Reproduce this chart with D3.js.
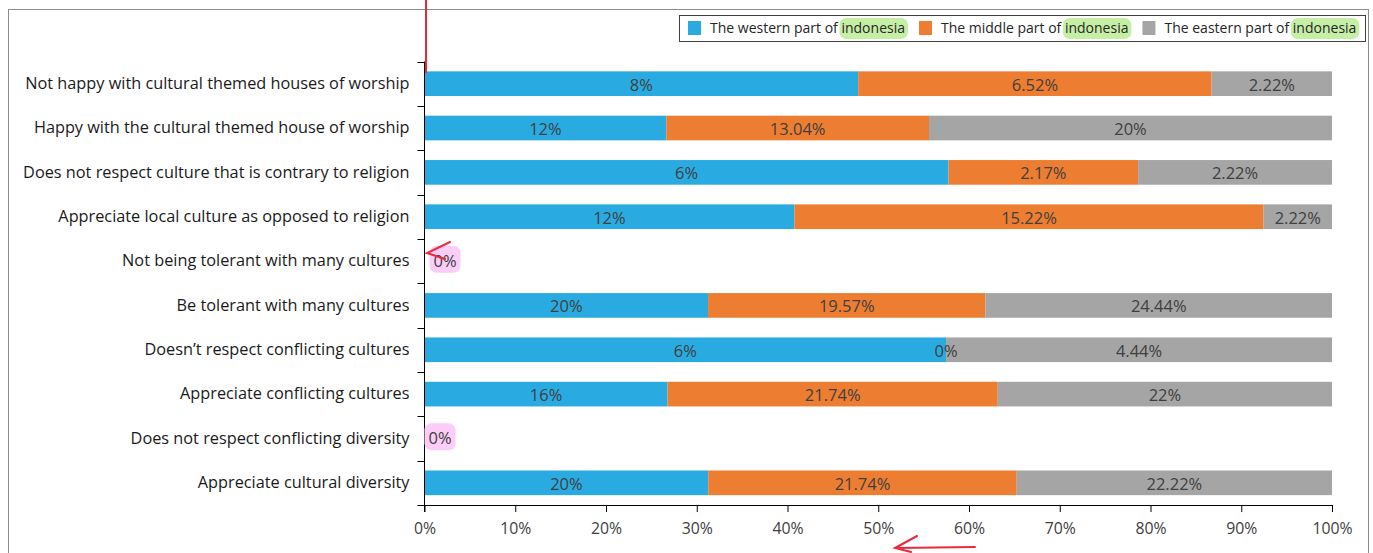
<!DOCTYPE html>
<html>
<head>
<meta charset="utf-8">
<script src="https://cdn.jsdelivr.net/npm/d3@7"></script>
<style>
  html, body { margin: 0; padding: 0; background: #fff; }
  svg { display: block; font-family: "Open Sans", Lato, sans-serif; }
</style>
</head>
<body>
<svg id="chart" width="1373" height="553"></svg>
<script>
// Survey responses by region (percent of respondents)
const categories = [
  "Not happy with cultural themed houses of worship",
  "Happy with the cultural themed house of worship",
  "Does not respect culture that is contrary to religion",
  "Appreciate local culture as opposed to religion",
  "Not being tolerant with many cultures",
  "Be tolerant with many cultures",
  "Doesn\u2019t respect conflicting cultures",
  "Appreciate conflicting cultures",
  "Does not respect conflicting diversity",
  "Appreciate cultural diversity"
];
const western = [8, 12, 6, 12, 0, 20, 6, 16, 0, 20];
const middle  = [6.52, 13.04, 2.17, 15.22, 0, 19.57, 0, 21.74, 0, 21.74];
const eastern = [2.22, 20, 2.22, 2.22, 0, 24.44, 4.44, 22, 0, 22.22];
const seriesNames = ["The western part of ", "The middle part of ", "The eastern part of "];
const seriesKeys = ["western", "middle", "eastern"];
const seriesColors = ["#29abe2", "#ed7d31", "#a5a5a5"];
const xTicks = [0, 0.1, 0.2, 0.3, 0.4, 0.5, 0.6, 0.7, 0.8, 0.9, 1];

const rows = categories.map((c, i) => ({
  category: c, western: western[i], middle: middle[i], eastern: eastern[i]
}));

const svg = d3.select("#chart");
const textColor = "#404040";

// outer frame
svg.append("rect")
  .attr("x", 8.5).attr("y", 9.5).attr("width", 1360).attr("height", 560)
  .attr("fill", "none").attr("stroke", "#8c8c8c").attr("stroke-width", 1);

const plotLeft = 424.5, plotRight = 1332, plotTop = 61.5, plotBottom = 505;

const x = d3.scaleLinear().domain([0, 1]).range([plotLeft, plotRight]);
const y = d3.scaleBand().domain(categories).range([plotTop, plotBottom]).paddingInner(0.444).paddingOuter(0.222);

const stack = d3.stack().keys(seriesKeys).offset(d3.stackOffsetExpand);
const stacked = stack(rows);

// bars
const g = svg.append("g");
stacked.forEach((s, si) => {
  g.selectAll(null).data(s).enter().append("rect")
    .attr("x", d => x(d[0]))
    .attr("y", d => y(d.data.category))
    .attr("width", d => Math.max(0, x(d[1]) - x(d[0])))
    .attr("height", y.bandwidth())
    .attr("fill", seriesColors[si]);
});

// x axis
const xAxis = svg.append("g")
  .attr("transform", `translate(0,${plotBottom})`)
  .call(d3.axisBottom(x).tickValues(xTicks).tickFormat(d3.format(".0%")).tickSizeOuter(0).tickSize(7).tickPadding(11));
xAxis.select(".domain").attr("stroke", "#000").attr("d", `M${plotLeft - 7},0.5H${plotRight}`);
xAxis.selectAll(".tick line").attr("stroke", "#000");
xAxis.selectAll("text").attr("font-size", 15.8).attr("fill", textColor)
  .attr("font-family", "'Open Sans', sans-serif");

// y axis with ticks at band boundaries
const yg = svg.append("g").attr("transform", `translate(${plotLeft},0)`);
yg.append("line").attr("x1", 0).attr("x2", 0).attr("y1", plotTop).attr("y2", plotBottom + 7).attr("stroke", "#000");
d3.range(categories.length).forEach(i => {
  const yy = Math.round(plotTop + i * (plotBottom - plotTop) / categories.length) + 0.5;
  yg.append("line").attr("x1", -7).attr("x2", 0).attr("y1", yy).attr("y2", yy).attr("stroke", "#000");
});
categories.forEach(c => {
  yg.append("text")
    .attr("x", -15)
    .attr("y", y(c) + y.bandwidth() / 2)
    .attr("dy", "0.32em")
    .attr("text-anchor", "end")
    .attr("font-size", 16.3)
    .attr("fill", "#1a1a1a")
    .text(c);
});

// data labels
const labelG = svg.append("g");
const pinkBg = labelG.append("g");
rows.forEach((r, i) => {
  const total = r.western + r.middle + r.eastern;
  const cy = y(r.category) + y.bandwidth() / 2;
  if (total === 0) {
    const t = labelG.append("text")
      .attr("x", x(0) + (i === 4 ? 9 : 4))
      .attr("y", cy).attr("dy", "0.35em")
      .attr("font-size", 16.5).attr("fill", textColor)
      .text("0%");
    const b = t.node().getBBox();
    pinkBg.append("rect")
      .attr("x", b.x - 4).attr("y", b.y - 3).attr("width", b.width + 8).attr("height", b.height + 4)
      .attr("rx", 7).attr("fill", "#fbcdf7");
    return;
  }
  stacked.forEach((s, si) => {
    const d = s[i];
    const v = r[seriesKeys[si]];
    labelG.append("text")
      .attr("x", (x(d[0]) + x(d[1])) / 2)
      .attr("y", cy).attr("dy", "0.42em")
      .attr("text-anchor", "middle")
      .attr("font-size", 16.5).attr("fill", textColor)
      .text(v + "%");
  });
});

// legend
const leg = svg.append("g");
leg.append("rect")
  .attr("x", 679.5).attr("y", 15.5).attr("width", 686).attr("height", 26)
  .attr("fill", "#fff").attr("stroke", "#404040");
let lx = 688;
seriesNames.forEach((name, i) => {
  leg.append("rect").attr("x", lx).attr("y", 21).attr("width", 13).attr("height", 14).attr("fill", seriesColors[i]);
  const t = leg.append("text").attr("x", lx + 22).attr("y", 28).attr("dy", "0.35em")
    .attr("font-size", 14).attr("fill", "#262626");
  t.append("tspan").text(name);
  const hl = t.append("tspan").text("indonesia");
  const tb = t.node().getBBox();
  const hw = hl.node().getComputedTextLength();
  leg.insert("rect", "text")
    .attr("x", tb.x + tb.width - hw - 2).attr("y", 18).attr("width", hw + 5).attr("height", 21)
    .attr("rx", 7).attr("fill", "#c6efa6");
  lx = tb.x + tb.width + 14;
});
leg.selectAll("text").raise();

// red pen marks
const red = "#e8293f";
const ann = svg.append("g").attr("stroke", red).attr("fill", "none").attr("stroke-width", 2).attr("stroke-linecap", "round");
ann.append("path").attr("d", `M${x(0) + 1.5},0V72`);
ann.append("path").attr("d", "M450,242L427,253L445,259");
ann.append("path").attr("d", "M975,547L895,548M917,536L895,548L911,552");
</script>
</body>
</html>
